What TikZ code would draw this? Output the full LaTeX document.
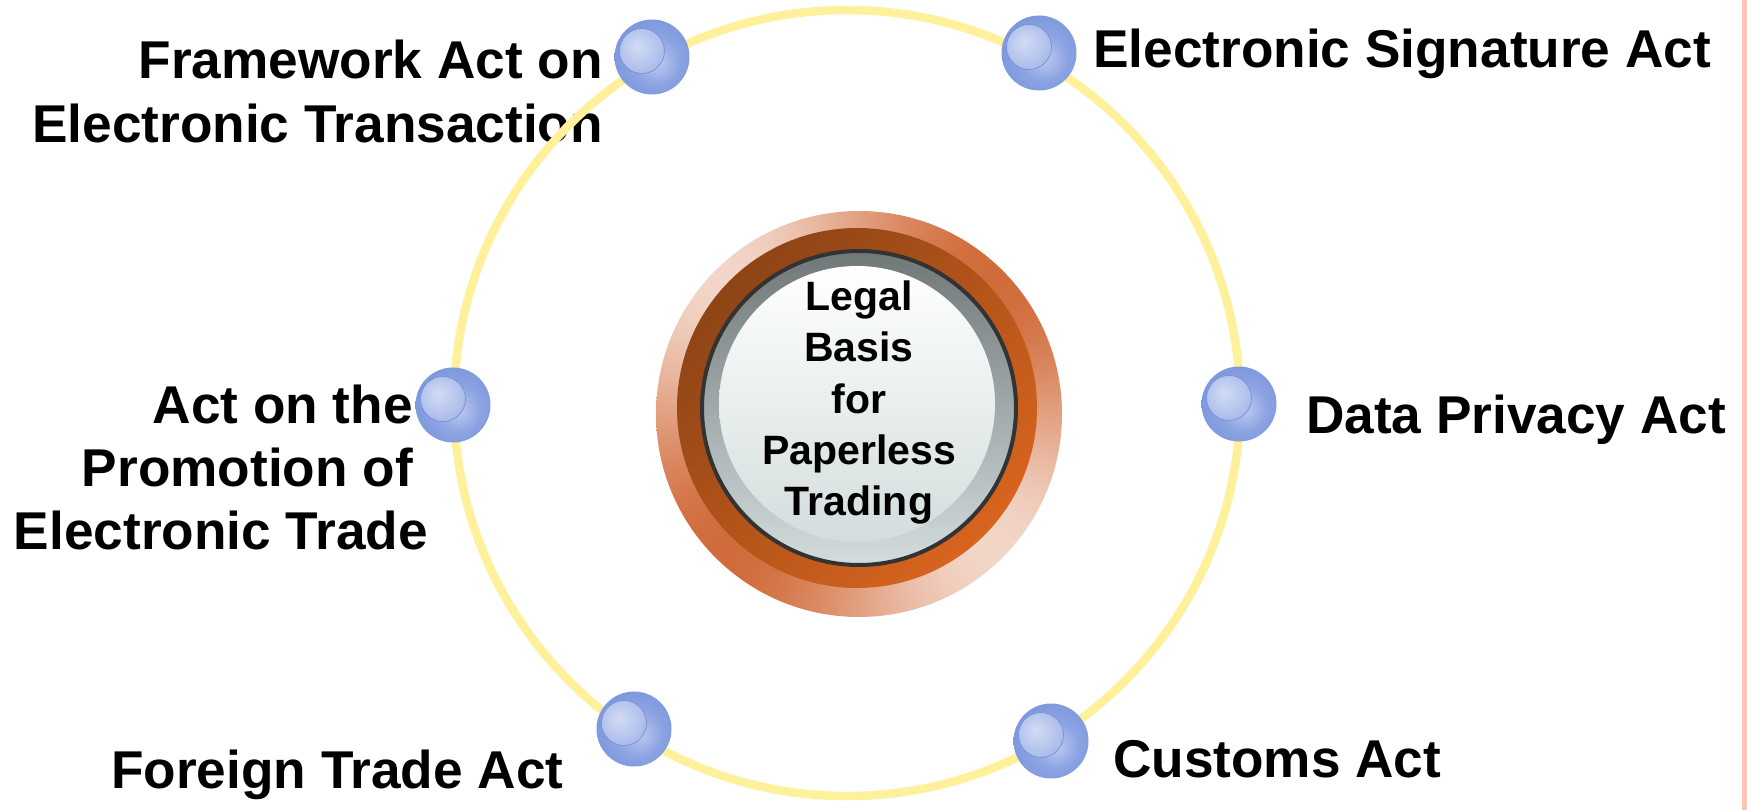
\documentclass[tikz,border=0pt]{standalone}
\usepackage{fontspec}
\setmainfont{Liberation Sans}
\definecolor{ringyellow}{HTML}{FFF19C}
\definecolor{browndark}{HTML}{8E4416}
\definecolor{brownlight}{HTML}{D8641E}
\definecolor{faceedge}{HTML}{6F7777}
\definecolor{facemid}{HTML}{C0C9C9}
\definecolor{facelow}{HTML}{D3DDDD}
\definecolor{outline}{HTML}{333333}
\definecolor{blA}{HTML}{BCC8EF}
\definecolor{blB}{HTML}{8CA3E2}
\definecolor{blC}{HTML}{6083D5}
\definecolor{blInA}{HTML}{D3DCF5}
\definecolor{blInB}{HTML}{849CDF}
\definecolor{blLine}{HTML}{7690D9}
\definecolor{stripcol}{HTML}{FFC3AF}
% halo: orange glow fading outwards, paler towards top-left and bottom-right
\pgfdeclarefunctionalshading{halofun}{\pgfpoint{-50bp}{-50bp}}{\pgfpoint{50bp}{50bp}}{}{
  2 copy sub abs 3 1 roll
  dup mul exch dup mul add sqrt
  dup 44 sub 6.5 div dup 0 lt {pop 0} if dup 1 gt {pop 1} if 1 exch sub
  3 1 roll 1.4142 mul dup 0.001 lt {pop 0.001} if div
  dup 1 gt {pop 1} if
  dup mul 0.72 mul 1 exch sub mul
  dup dup
  0.18 mul 1 exch sub 3 1 roll
  0.58 mul 1 exch sub exch
  0.77 mul 1 exch sub
}
\pgfdeclareradialshading{bubshade}{\pgfpoint{4bp}{-4bp}}{color(0bp)=(blA); color(16bp)=(blB); color(50bp)=(blC)}
\pgfdeclareradialshading{bubinner}{\pgfpoint{-6bp}{6bp}}{color(0bp)=(blInA); color(22bp)=(blInA!55!blB); color(50bp)=(blInB)}
\tikzset{
  bubble/.style={circle, minimum size=75pt, inner sep=0pt, shade, shading=bubshade},
  lbl/.style={font=\bfseries\fontsize{53.2}{63}\selectfont, inner sep=0pt, text=black},
}
\begin{document}
\begin{tikzpicture}[x=1pt,y=-1pt]
\useasboundingbox (0,0) rectangle (1747,810);
\fill[white] (0,0) rectangle (1747,810);
\fill[stripcol] (1742,0) rectangle (1747,810);

% labels
\node[lbl, align=right, anchor=north east, font=\bfseries\fontsize{53.2}{64}\selectfont] (lfw) at (603,40) {Framework Act on\\Electronic Transaction};
\node[lbl, anchor=base west] (lesa) at (1093,68) {Electronic Signature Act};
\node[lbl, align=right, anchor=north east] (lpro) at (428,385) {Act on the\hbox to 15pt{}\\Promotion of\hbox to 15pt{}\\Electronic Trade};
\node[lbl, anchor=base west] (ldpa) at (1306,433) {Data Privacy Act};
\node[lbl, anchor=base west] (lfta) at (111,788) {Foreign Trade Act};
\node[lbl, anchor=base west] (lca) at (1113,777) {Customs Act};

% ring
\node[circle, draw=ringyellow, line width=8.5pt, minimum size=786pt, inner sep=0pt] (ring) at (847,403) {};

% centre
\coordinate (cc) at (859,414);
\shade[shading=halofun] (cc) circle (203);
\shade[top color=browndark, bottom color=brownlight, shading angle=45] (857,408) circle (180);
\shade[top color=faceedge, middle color=facemid, bottom color=facelow] (859,408) circle (157);
\shade[top color=white, bottom color=facelow] (857,404) circle (138);
\draw[outline, line width=4pt] (859,408) circle (157);
\node[font=\bfseries\fontsize{41}{51.25}\selectfont, align=center, anchor=north, inner sep=0pt] (ctext) at (859,280.6) {Legal\\Basis\\for\\Paperless\\Trading};

% bubbles
\node[bubble] (b1) at (652,57) {};
\node[bubble] (b2) at (1039,53) {};
\node[bubble] (b3) at (453,405) {};
\node[bubble] (b4) at (1239,404) {};
\node[bubble] (b5) at (634,729) {};
\node[bubble] (b6) at (1051,741) {};
\foreach \b in {b1,b2,b3,b4,b5,b6}
  \shade[shading=bubinner, draw=blLine, line width=0.7pt] ([shift={(-10,-6)}]\b.center) circle (22.5);
\end{tikzpicture}
\end{document}
